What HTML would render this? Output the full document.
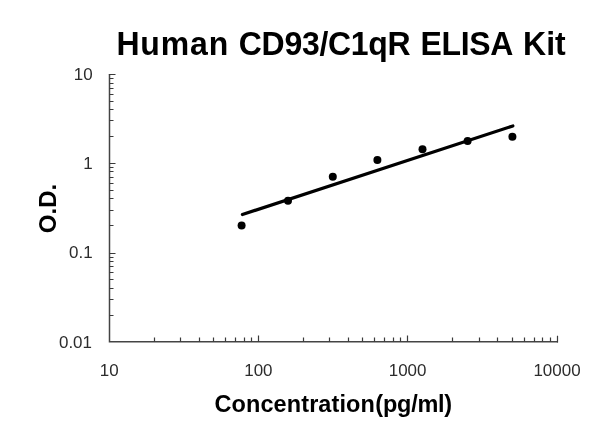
<!DOCTYPE html>
<html><head><meta charset="utf-8">
<style>
html,body{margin:0;padding:0;background:#fff;}
body{width:600px;height:439px;overflow:hidden;}
svg{display:block}
text{font-family:"Liberation Sans",Arial,sans-serif;}
.t{font-weight:bold;fill:#000;}
.l{fill:#2c2c2c;font-size:15.8px;}
</style></head><body>
<svg width="600" height="439" viewBox="0 0 600 439">
<rect width="600" height="439" fill="#fff"/>
<g class="t" font-size="32" transform="translate(0,55) scale(1,1.045) translate(0,-55)">
<text id="w1" x="116.4" y="55" letter-spacing="0.85">Human</text>
<text id="w2" x="238.8" y="55" letter-spacing="-0.3">CD93/C1qR</text>
<text id="w3" x="420.4" y="55" letter-spacing="-0.3">ELISA</text>
<text id="w4" x="523.1" y="55">Kit</text>
</g>
<text id="xl" class="t" transform="translate(214.5,411.9) scale(1,0.98)" font-size="23.5"><tspan letter-spacing="0.1">Concentration</tspan><tspan letter-spacing="-0.25" dx="0.4">(pg/ml)</tspan></text>
<text id="yl" class="t" transform="translate(55.8,208.5) rotate(-90)" font-size="24" text-anchor="middle">O.D.</text>
<g id="axes" stroke="#444" stroke-width="1.4" fill="none">
<path d="M109.5 74.6V341.8H557.9" stroke-width="1.5"/>
</g>
<g id="ticks" stroke="#3a3a3a" stroke-width="1.2" fill="none"><path d="M154.50 341.8v-4.3M109.5 315.50h4M180.50 341.8v-4.3M109.5 299.50h4M199.50 341.8v-4.3M109.5 288.50h4M213.50 341.8v-4.3M109.5 279.50h4M225.50 341.8v-4.3M109.5 272.50h4M235.50 341.8v-4.3M109.5 266.50h4M244.50 341.8v-4.3M109.5 261.50h4M251.50 341.8v-4.3M109.5 257.50h4M258.50 341.8v-6.3M109.5 253.50h6M303.50 341.8v-4.3M109.5 225.50h4M329.50 341.8v-4.3M109.5 210.50h4M348.50 341.8v-4.3M109.5 198.50h4M362.50 341.8v-4.3M109.5 190.50h4M374.50 341.8v-4.3M109.5 183.50h4M384.50 341.8v-4.3M109.5 177.50h4M393.50 341.8v-4.3M109.5 171.50h4M400.50 341.8v-4.3M109.5 167.50h4M407.50 341.8v-6.3M109.5 163.50h6M452.50 341.8v-4.3M109.5 136.50h4M479.50 341.8v-4.3M109.5 120.50h4M497.50 341.8v-4.3M109.5 109.50h4M512.50 341.8v-4.3M109.5 101.50h4M524.50 341.8v-4.3M109.5 94.50h4M534.50 341.8v-4.3M109.5 88.50h4M542.50 341.8v-4.3M109.5 83.50h4M550.50 341.8v-4.3M109.5 78.50h4M557.50 342.55v-6.9M108.8 74.50h6.7"/></g>
<g id="ylabels" class="l"><text transform="translate(92.6,80.3) scale(1.075,1)" text-anchor="end">10</text><text transform="translate(92.7,169.2) scale(1.075,1)" text-anchor="end">1</text><text transform="translate(92.7,257.9) scale(1.075,1)" text-anchor="end">0.1</text><text transform="translate(92.0,347.7) scale(1.075,1)" text-anchor="end">0.01</text></g>
<g id="xlabels" class="l"><text transform="translate(109.2,376.1) scale(1.075,1)" text-anchor="middle">10</text><text transform="translate(258.4,376.1) scale(1.075,1)" text-anchor="middle">100</text><text transform="translate(407.6,376.1) scale(1.075,1)" text-anchor="middle">1000</text><text transform="translate(557.0,376.1) scale(1.075,1)" text-anchor="middle">10000</text></g>
<path d="M242.4 214.5L512.9 125.9" stroke="#000" stroke-width="3.2" stroke-linecap="round" fill="none"/>
<g fill="#000"><circle cx="241.6" cy="225.5" r="4.0"/><circle cx="288" cy="200.7" r="4.0"/><circle cx="332.8" cy="176.7" r="4.0"/><circle cx="377.4" cy="159.9" r="4.0"/><circle cx="422.5" cy="149.3" r="4.0"/><circle cx="467.6" cy="141.0" r="4.0"/><circle cx="512.4" cy="136.7" r="4.0"/></g>
</svg>
</body></html>
